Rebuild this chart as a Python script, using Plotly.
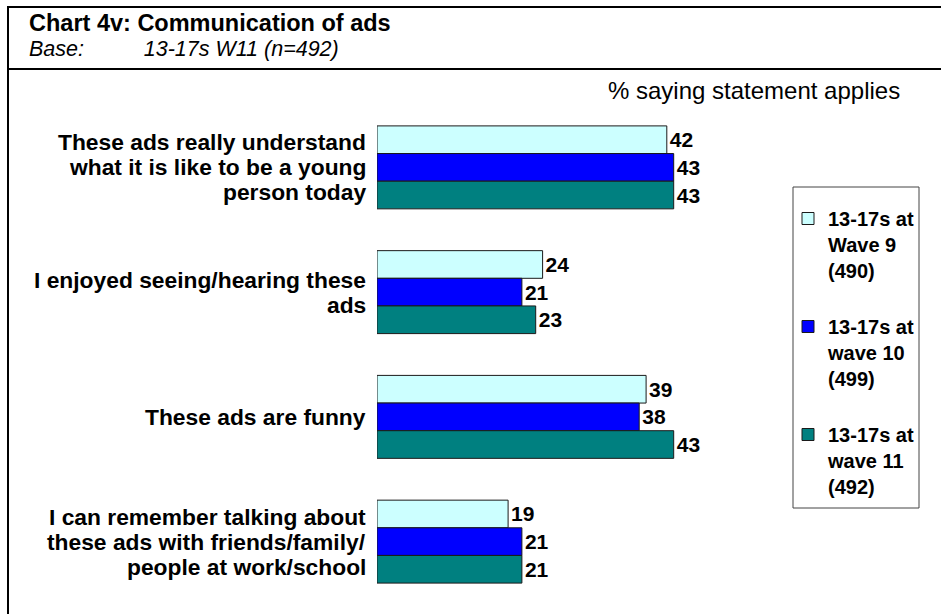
import plotly.graph_objects as go

# ---- data -----------------------------------------------------------------
statements = [
    "These ads really understand\nwhat it is like to be a young\nperson today",
    "I enjoyed seeing/hearing these\nads",
    "These ads are funny",
    "I can remember talking about\nthese ads with friends/family/\npeople at work/school",
]
series_names = [
    "13-17s at<br>Wave 9<br>(490)",
    "13-17s at<br>wave 10<br>(499)",
    "13-17s at<br>wave 11<br>(492)",
]
wave9 = [42, 24, 39, 19]
wave10 = [43, 21, 38, 21]
wave11 = [43, 23, 43, 21]
series_values = [wave9, wave10, wave11]
series_colors = ["#CCFFFF", "#0000FF", "#008080"]

title_text = "Chart 4v: Communication of ads"
base_label = "Base:"
base_text = "13-17s W11 (n=492)"
measure_text = "% saying statement applies"

# ---- page geometry (pixels) ----------------------------------------------
W, H = 941, 614
PL, PR, PT, PB = 377, 791, 105, 604   # plot area edges
X_MAX = 60


def px(x):
    return (x - PL) / (PR - PL)


def py(y):
    return (PB - y) / (PB - PT)


FONT = "Liberation Sans, Arial, sans-serif"
categories = [s.replace("\n", " ") for s in statements]

fig = go.Figure()
for name, vals, col in zip(series_names, series_values, series_colors):
    fig.add_trace(go.Bar(
        y=categories, x=vals, orientation="h", name=name,
        legendgroup=name,
        marker=dict(color=col, line=dict(color="#1a1a1a", width=1)),
        text=[str(v) for v in vals], textposition="outside",
        textfont=dict(family=FONT, size=21, color="black", weight="bold"),
        constraintext="none", cliponaxis=False,
    ))

annotations = []
# statement labels, one annotation per line
LINE = 25
for cat, stmt in zip(categories, statements):
    lines = stmt.split("\n")
    n = len(lines)
    for i, ln in enumerate(lines):
        annotations.append(dict(
            x=0, xref="paper", y=cat, yref="y", text=ln,
            xanchor="right", yanchor="middle", xshift=-9,
            yshift=-(i - (n - 1) / 2) * LINE, showarrow=False,
            font=dict(family=FONT, size=22.8, color="black", weight="bold"),
        ))

# two-line heading block: bold title over the italic base description
heading = (
    f"<b><span style='font-size:23.5px'>{title_text}</span></b><br>"
    f"<i><span style='font-size:21.5px'>{base_label}"
    + "&nbsp;" * 10
    + f"{base_text}</span></i>"
)
annotations += [
    dict(x=px(27), y=py(35.5), xref="paper", yref="paper", text=heading,
         xanchor="left", yanchor="middle", align="left", showarrow=False,
         font=dict(family=FONT, size=19.6, color="black")),
    dict(x=px(902), y=py(91), xref="paper", yref="paper", text=measure_text,
         xanchor="right", yanchor="middle", showarrow=False,
         font=dict(family=FONT, size=24, color="black")),
]

frame = dict(color="black", width=2)
shapes = [
    dict(type="line", xref="paper", yref="paper",
         x0=px(8), x1=px(W + 2), y0=py(7), y1=py(7), line=frame),
    dict(type="line", xref="paper", yref="paper",
         x0=px(8), x1=px(W + 2), y0=py(69), y1=py(69), line=frame),
    dict(type="line", xref="paper", yref="paper",
         x0=px(8), x1=px(8), y0=py(6), y1=py(H + 2), line=frame),
    # legend box
    dict(type="rect", xref="paper", yref="paper",
         x0=px(793), x1=px(919), y0=py(187), y1=py(508),
         line=dict(color="#444444", width=1)),
]

fig.update_layout(
    width=W, height=H, autosize=False,
    margin=dict(l=PL, r=W - PR, t=PT, b=H - PB, pad=0),
    paper_bgcolor="white", plot_bgcolor="white",
    font=dict(family=FONT, color="black"),
    barmode="group", bargap=0.335, bargroupgap=0,
    xaxis=dict(range=[0, X_MAX], visible=False, fixedrange=True),
    yaxis=dict(autorange="reversed", showticklabels=False, showgrid=False,
               zeroline=False, showline=False, ticks="", fixedrange=True),
    legend=dict(x=px(788), y=py(199), xanchor="left", yanchor="top",
                xref="paper", yref="paper",
                bgcolor="rgba(0,0,0,0)", borderwidth=0,
                font=dict(family=FONT, size=20, color="black", weight="bold"),
                valign="top", traceorder="grouped", tracegroupgap=27),
    annotations=annotations, shapes=shapes, showlegend=True,
)

fig.write_html("out.html")
